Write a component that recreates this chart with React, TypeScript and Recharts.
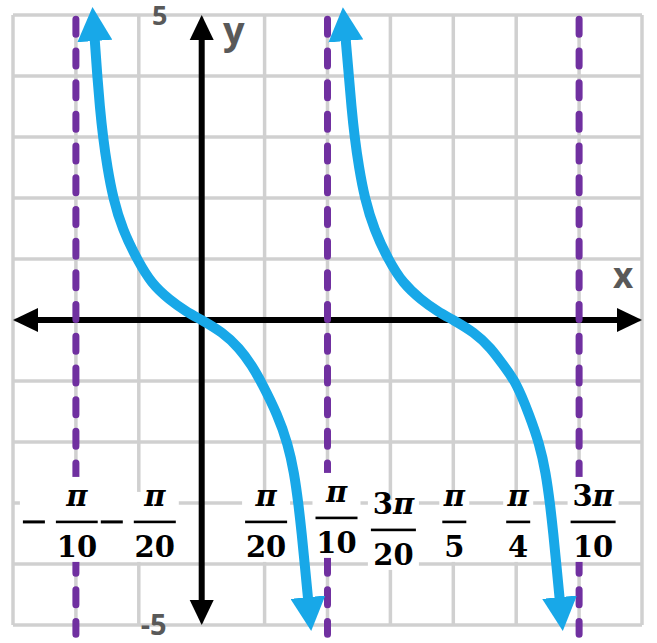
import React from "react";
import {
  LineChart,
  Line,
  XAxis,
  YAxis,
  CartesianGrid,
  ReferenceLine,
  ReferenceDot,
} from "recharts";

const PI = Math.PI;

// x values are multiples of pi
const GRID_X = [-0.15, -0.1, -0.05, 0, 0.05, 0.1, 0.15, 0.2, 0.25, 0.3, 0.35];
const GRID_Y = [-5, -4, -3, -2, -1, 0, 1, 2, 3, 4, 5];
const ASYMPTOTES = [-0.1, 0.1, 0.3];

const BRANCH_1_X = [-0.085, -0.083, -0.081, -0.0785, -0.075, -0.0705, -0.063, -0.051, -0.04, -0.0255, -0.0125, 0, 0.0165, 0.03, 0.04, 0.0475, 0.0605, 0.0685, 0.0735, 0.077, 0.0795, 0.082, 0.0845];
const BRANCH_1_Y = [4.59, 4.0, 3.5, 3.0, 2.5, 2.0, 1.48, 0.98, 0.6, 0.33, 0.14, 0, -0.2, -0.46, -0.75, -1.02, -1.56, -2.03, -2.5, -3.03, -3.5, -4.03, -4.56];
const BRANCH_2_X = [0.1145, 0.117, 0.119, 0.1215, 0.125, 0.1295, 0.137, 0.1485, 0.16, 0.1745, 0.1875, 0.2, 0.2165, 0.23, 0.24, 0.25, 0.2605, 0.2685, 0.2735, 0.277, 0.2795, 0.282, 0.2845];
const BRANCH_2_Y = [4.59, 4.0, 3.5, 3.0, 2.5, 2.0, 1.48, 0.98, 0.6, 0.33, 0.14, 0, -0.2, -0.46, -0.75, -1.02, -1.56, -2.03, -2.5, -3.03, -3.5, -4.03, -4.56];

const TICK_VALUES = [-0.1, -0.05, 0.05, 0.1, 0.15, 0.2, 0.25, 0.3];
const TICK_NUM = ["π", "π", "π", "π", "3π", "π", "π", "3π"];
const TICK_DEN = ["10", "20", "20", "10", "20", "5", "4", "10"];
const TICK_NEG = [true, true, false, false, false, false, false, false];

// label nudges in px
const LABEL_DX = [1, 16, 1.5, 9, 3, 1, 2, 14];
const LABEL_DY = [0, 0, 0, -4, 8, 0, 0, 0];
const LABEL_Y = -3.31;

const BLUE = "#18a8e8";
const PURPLE = "#7030a0";
const GRID = "#d0d0d0";
const GRAY_TEXT = "#595959";

const branch1 = BRANCH_1_X.map((v, i) => ({ x: v * PI, y: BRANCH_1_Y[i] }));
const branch2 = BRANCH_2_X.map((v, i) => ({ x: v * PI, y: BRANCH_2_Y[i] }));

const AxisArrow = (p: any) => {
  const { x1, y1, x2, y2 } = p;
  const len = Math.hypot(x2 - x1, y2 - y1) || 1;
  const ux = (x2 - x1) / len;
  const uy = (y2 - y1) / len;
  const L = 25;
  const W = 12;
  const tri = (tx: number, ty: number, dx: number, dy: number) =>
    `M${tx},${ty} L${tx - dx * L - dy * W},${ty - dy * L + dx * W} L${tx - dx * L + dy * W},${ty - dy * L - dx * W} Z`;
  return (
    <g>
      <line
        x1={x1 + ux * (L - 3)}
        y1={y1 + uy * (L - 3)}
        x2={x2 - ux * (L - 3)}
        y2={y2 - uy * (L - 3)}
        stroke="#000"
        strokeWidth={6}
      />
      <path d={tri(x2, y2, ux, uy)} fill="#000" />
      <path d={tri(x1, y1, -ux, -uy)} fill="#000" />
    </g>
  );
};

const makeFraction = (i: number) => (p: any) => {
  const x = p.cx + LABEL_DX[i];
  const y = p.cy + LABEL_DY[i];
  const num = TICK_NUM[i];
  const den = TICK_DEN[i];
  const barW = num.length > 1 ? 45 : den.length > 1 ? 42 : 24;
  const left = x - barW / 2;
  const minusW = 22;
  const minusLeft = left - 11 - minusW;
  const boxLeft = (TICK_NEG[i] ? minusLeft : left) - 3;
  const onAsymptote = ASYMPTOTES.includes(TICK_VALUES[i]);
  const boxTop = y - (onAsymptote ? 45 : 30);
  return (
    <g>
      <rect x={boxLeft} y={boxTop} width={left + barW + 3 - boxLeft} height={y + 40 - boxTop} fill="#fff" />
      {TICK_NEG[i] && <rect x={minusLeft} y={y - 1.5} width={minusW} height={3} fill="#000" />}
      <text
        x={x}
        y={y - 16}
        textAnchor="middle"
        fontFamily="DejaVu Serif"
        fontWeight="bold"
        fontSize={29}
        fill="#000"
      >
        {num.length > 1 && <tspan>{num.slice(0, -1)}</tspan>}
        <tspan fontStyle="italic">π</tspan>
      </text>
      <rect x={left} y={y - 1.3} width={barW} height={2.6} fill="#000" />
      <text
        x={x}
        y={y + 35}
        textAnchor="middle"
        fontFamily="DejaVu Serif"
        fontWeight="bold"
        fontSize={29}
        fill="#000"
      >
        {den}
      </text>
    </g>
  );
};

const textShape = (label: string, dx: number, dy: number, size: number) => (p: any) => (
  <text
    x={p.cx + dx}
    y={p.cy + dy}
    textAnchor="middle"
    fontFamily="Open Sans"
    fontWeight="bold"
    fontSize={size}
    fill={GRAY_TEXT}
  >
    {label}
  </text>
);

export default function App() {
  return (
    <div style={{ position: "absolute", left: 0, top: 0, background: "#fff" }}>
      <LineChart width={657} height={643} margin={{ top: 15, right: 15, bottom: 18, left: 13 }}>
        <defs>
          <marker
            id="curveArrow"
            viewBox="0 0 34 35"
            refX="1"
            refY="17.5"
            markerWidth="34"
            markerHeight="35"
            markerUnits="userSpaceOnUse"
            orient="auto-start-reverse"
          >
            <path d="M0,0 L34,17.5 L0,35 Z" fill={BLUE} />
          </marker>
        </defs>
        <XAxis
          type="number"
          dataKey="x"
          domain={[-0.15 * PI, 0.35 * PI]}
          ticks={GRID_X.map((v) => v * PI)}
          interval={0}
          hide
        />
        <YAxis type="number" dataKey="y" domain={[-5, 5]} ticks={GRID_Y} interval={0} hide />
        <CartesianGrid stroke={GRID} strokeWidth={3.5} />

        <ReferenceLine
          segment={[{ x: -0.15 * PI, y: 0 }, { x: 0.35 * PI, y: 0 }]}
          ifOverflow="visible"
          shape={AxisArrow}
          zIndex={410}
        />
        <ReferenceLine
          segment={[{ x: 0, y: 5 }, { x: 0, y: -5 }]}
          ifOverflow="visible"
          shape={AxisArrow}
          zIndex={410}
        />

        {ASYMPTOTES.map((a) => (
          <ReferenceLine
            key={`as-${a}`}
            segment={[{ x: a * PI, y: 4.93 }, { x: a * PI, y: -5.15 }]}
            ifOverflow="visible"
            stroke={PURPLE}
            strokeWidth={7}
            strokeDasharray="15 16.7"
            strokeLinecap="round"
            zIndex={420}
          />
        ))}

        {TICK_VALUES.map((v, i) => (
          <ReferenceDot
            key={`tick-${i}`}
            x={v * PI}
            y={LABEL_Y}
            ifOverflow="visible"
            shape={makeFraction(i)}
            zIndex={430}
          />
        ))}

        <Line
          data={branch1}
          dataKey="y"
          type="basis"
          stroke={BLUE}
          strokeWidth={10}
          dot={false}
          activeDot={false}
          markerStart="url(#curveArrow)"
          markerEnd="url(#curveArrow)"
          isAnimationActive={false}
          zIndex={440}
        />
        <Line
          data={branch2}
          dataKey="y"
          type="basis"
          stroke={BLUE}
          strokeWidth={10}
          dot={false}
          activeDot={false}
          markerStart="url(#curveArrow)"
          markerEnd="url(#curveArrow)"
          isAnimationActive={false}
          zIndex={440}
        />

        <ReferenceDot x={0} y={5} ifOverflow="visible" shape={textShape("5", -42, 9.5, 27)} zIndex={450} />
        <ReferenceDot x={0} y={-5} ifOverflow="visible" shape={textShape("-5", -48, 10, 29)} zIndex={450} />
        <ReferenceDot x={0} y={5} ifOverflow="visible" shape={textShape("y", 32, 29, 38)} zIndex={450} />
        <ReferenceDot x={0.35 * PI} y={0} ifOverflow="visible" shape={textShape("x", -19, -32, 35)} zIndex={450} />
      </LineChart>
    </div>
  );
}
